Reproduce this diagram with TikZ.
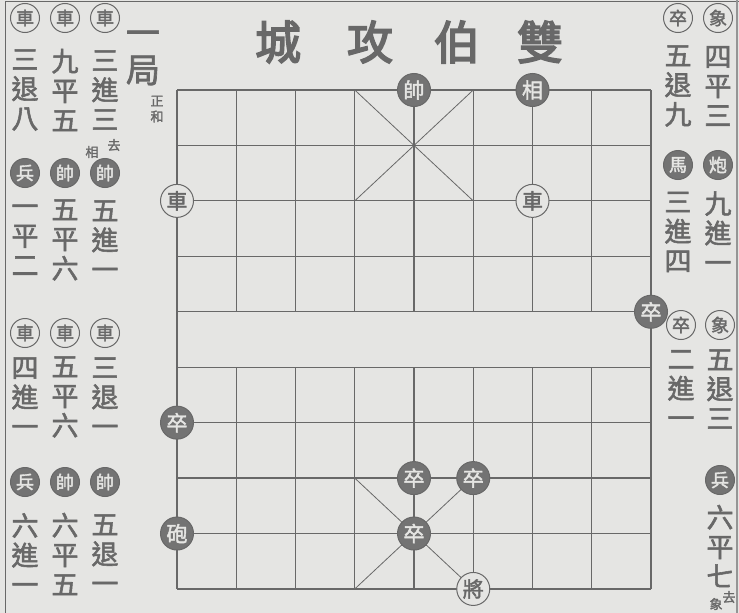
\documentclass[tikz,border=0pt]{standalone}
\usepackage{fontspec}
\newfontfamily\cjk{Noto Sans CJK TC}
\newfontfamily\cjkb[FakeBold=2]{Noto Sans CJK TC}
\newfontfamily\cjkt[FakeBold=3.5]{Noto Sans CJK TC}
\usetikzlibrary{positioning}

\definecolor{paper}{HTML}{E5E5E3}
\definecolor{ink}{HTML}{686868}
\definecolor{inkdark}{HTML}{737373}

\begin{document}
\begin{tikzpicture}[
      x=1pt, y=-1pt,
      piece/.style={circle, draw=ink, line width=1pt, fill=paper, minimum size=33pt, inner sep=0pt, text=ink, font=\cjkb\fontsize{21}{21}\selectfont},
      dpiece/.style={piece, fill=inkdark, text=paper},
      icon/.style={piece, minimum size=29pt, font=\cjkb\fontsize{18}{18}\selectfont},
      dicon/.style={icon, fill=inkdark, text=paper},
      move/.style={align=center, inner sep=0pt, text=ink, font=\cjkb\fontsize{27}{29.5}\selectfont},
      small/.style={inner sep=0pt, text=ink, font=\cjkb\fontsize{13}{13}\selectfont},
      title/.style={inner sep=0pt, text=ink, font=\cjkt\fontsize{46}{46}\selectfont}
    ]
    \useasboundingbox[fill=paper] (0,0) rectangle (739,613);
    % Page frame
    \draw[ink, line width=1pt] (5,613) -- (5,1.5) -- (739,1.5);
    \draw[ink!70, line width=1.5pt] (737,0) -- (737,613);

    % Title
    \node[title] (t1) at (278,42) {城};
    \node[title] (t2) at (370,42) {攻};
    \node[title] (t3) at (457,42) {伯};
    \node[title] (t4) at (540,42) {雙};

    % Board
    \begin{scope}[shift={(177pt,-90pt)}, x=59.25pt, y=-55.44pt, ink, line width=1.2pt]
      \foreach \r in {0,...,9} \draw (0,\r) -- (8,\r);
      \draw (0,0) -- (0,9) (8,0) -- (8,9);
      \foreach \c in {1,...,7} {
        \draw (\c,0) -- (\c,4);
        \draw (\c,5) -- (\c,9);
      }
      \draw[line width=0.8pt] (3,0) -- (5,2) (5,0) -- (3,2);
      \draw[line width=0.8pt] (3,7) -- (5,9) (5,7) -- (3,9);

      % Pieces
      \node[dpiece] (shuai) at (4,0) {帥};
      \node[dpiece] (xiang) at (6,0) {相};
      \node[piece] (ju1) at (0,2) {車};
      \node[piece] (ju2) at (6,2) {車};
      \node[dpiece] (zu1) at (8,4) {卒};
      \node[dpiece] (zu2) at (0,6) {卒};
      \node[dpiece] (pao) at (0,8) {砲};
      \node[dpiece] (zu3) at (4,7) {卒};
      \node[dpiece] (zu4) at (5,7) {卒};
      \node[dpiece] (zu5) at (4,8) {卒};
      \node[piece] (jiang) at (5,9) {將};
    \end{scope}

    % Heading of the game
    \node[inner sep=0pt, text=ink, font=\cjkb\fontsize{34}{34}\selectfont] (ju) at (143,38) {一};
    \node[inner sep=0pt, text=ink, font=\cjkb\fontsize{34}{34}\selectfont, below=10pt of ju] (jub) {局};
    \node[small] (zh1) at (157,101) {正};
    \node[small, below=4pt of zh1] (zh2) {和};

    % Moves, left side
    \node[icon] (l1a) at (105,18) {車};
    \node[icon] (l1b) at (65,18) {車};
    \node[icon] (l1c) at (25,18) {車};
    \node[move] (m1a) at (105,90) {三\\進\\三};
    \node[move] (m1b) at (65,90) {九\\平\\五};
    \node[move] (m1c) at (25,90) {三\\退\\八};
    \node[small] (n1a) at (92,152) {相};
    \node[small] (n1b) at (114,145) {去};

    \node[dicon] (l2a) at (105,173) {帥};
    \node[dicon] (l2b) at (65,173) {帥};
    \node[dicon] (l2c) at (25,173) {兵};
    \node[move] (m2a) at (105,240) {五\\進\\一};
    \node[move] (m2b) at (65,240) {五\\平\\六};
    \node[move] (m2c) at (25,240) {一\\平\\二};

    \node[icon] (l3a) at (105,333) {車};
    \node[icon] (l3b) at (65,333) {車};
    \node[icon] (l3c) at (25,333) {車};
    \node[move] (m3a) at (105,397) {三\\退\\一};
    \node[move] (m3b) at (65,397) {五\\平\\六};
    \node[move] (m3c) at (25,397) {四\\進\\一};

    \node[dicon] (l4a) at (105,482) {帥};
    \node[dicon] (l4b) at (65,482) {帥};
    \node[dicon] (l4c) at (25,482) {兵};
    \node[move] (m4a) at (105,554) {五\\退\\一};
    \node[move] (m4b) at (65,554) {六\\平\\五};
    \node[move] (m4c) at (25,554) {六\\進\\一};

    % Moves, right side
    \node[icon] (r1a) at (718,18) {象};
    \node[icon] (r1b) at (678,18) {卒};
    \node[move] (k1a) at (718,86) {四\\平\\三};
    \node[move] (k1b) at (678,86) {五\\退\\九};

    \node[dicon] (r2a) at (718,165) {炮};
    \node[dicon] (r2b) at (678,165) {馬};
    \node[move] (k2a) at (718,232) {九\\進\\一};
    \node[move] (k2b) at (678,232) {三\\進\\四};

    \node[icon] (r3a) at (720,325) {象};
    \node[icon] (r3b) at (681,325) {卒};
    \node[move] (k3a) at (720,389) {五\\退\\三};
    \node[move] (k3b) at (681,389) {二\\進\\一};

    \node[dicon] (r4a) at (720,480) {兵};
    \node[move] (k4a) at (720,546) {六\\平\\七};
    \node[small] (n4a) at (716,604) {象};
    \node[small] (n4b) at (729,597) {去};

\end{tikzpicture}
\end{document}
